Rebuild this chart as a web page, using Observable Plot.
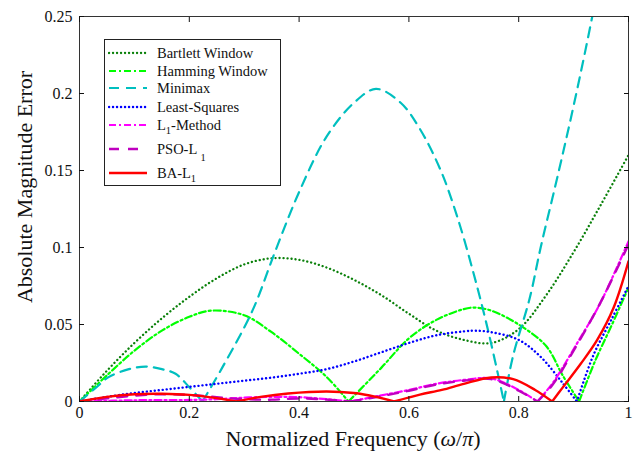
<!DOCTYPE html>
<html><head><meta charset="utf-8">
<script src="https://cdn.jsdelivr.net/npm/d3@7"></script>
<script src="https://cdn.jsdelivr.net/npm/@observablehq/plot@0.6"></script>
<style>
body{margin:0;background:#fff;}
#wrap{position:relative;width:638px;height:455px;font-family:"Liberation Serif","Times New Roman",serif;}
#legend{position:absolute;left:104px;top:39px;width:177px;height:147px;border:1px solid #222;background:#fff;box-sizing:border-box;}
.row{position:absolute;left:0;height:18px;width:170px;}
.row svg{position:absolute;left:3px;top:6px;}
.row span{position:absolute;left:52px;top:0;line-height:18px;font-size:14.5px;white-space:nowrap;color:#111;}
.row sub{font-size:10.5px;line-height:0;vertical-align:-4px;}
.row sub.low{vertical-align:-7px;}
</style></head><body><div id="wrap"></div>
<script>
// ---- data ----
const seriesNames = ["Bartlett Window","Hamming Window","Minimax","Least-Squares","L<sub>1</sub>-Method","PSO-L <sub class=\"low\">1</sub>","BA-L<sub>1</sub>"];

const bartlettF = [0,0.05,0.1,0.15,0.2,0.25,0.3,0.35,0.4,0.45,0.5,0.55,0.6,0.65,0.7,0.75,0.8,0.85,0.9,0.95,1];
const bartlettV = [0,0.020,0.038,0.054,0.068,0.080,0.089,0.093,0.092,0.087,0.079,0.069,0.057,0.046,0.040,0.038,0.047,0.069,0.097,0.128,0.160];

const hammingF = [0,0.05,0.1,0.15,0.2,0.24,0.3,0.35,0.4,0.45,0.49,0.55,0.6,0.65,0.7,0.72,0.75,0.8,0.85,0.88,0.91,0.94,0.97,1];
const hammingV = [0,0.017,0.033,0.046,0.055,0.059,0.056,0.045,0.031,0.016,0,0.022,0.041,0.053,0.060,0.061,0.059,0.050,0.036,0.017,0,0.027,0.050,0.074];

const minimaxF = [0,0.03,0.053,0.09,0.12,0.15,0.175,0.2,0.224,0.26,0.315,0.357,0.4,0.45,0.5,0.54,0.585,0.62,0.658,0.688,0.718,0.745,0.773,0.79,0.82,0.84,0.87,0.9,0.934,0.96];
const minimaxV = [0,0.009,0.0158,0.021,0.0227,0.021,0.018,0.0093,0,0.022,0.059,0.098,0.136,0.172,0.194,0.203,0.194,0.177,0.150,0.120,0.083,0.045,0,0.030,0.067,0.100,0.145,0.192,0.25,0.30];

const lsF = [0,0.05,0.1,0.15,0.2,0.25,0.3,0.35,0.4,0.45,0.5,0.55,0.6,0.65,0.7,0.72,0.75,0.8,0.84,0.88,0.906,0.936,0.97,1];
const lsV = [0,0.003,0.0055,0.0075,0.0095,0.0115,0.0135,0.0155,0.018,0.021,0.026,0.032,0.038,0.043,0.0455,0.046,0.045,0.040,0.029,0.012,0,0.030,0.054,0.075];

const l1F = [0,0.1,0.2,0.25,0.3,0.35,0.4,0.45,0.494,0.55,0.6,0.65,0.7,0.75,0.8,0.834,0.86,0.88,0.91,0.943,0.97,1];
const l1V = [0,0.0008,0.001,0.0015,0.0025,0.003,0.0028,0.0015,0,0.004,0.0075,0.0115,0.014,0.015,0.0075,0,0.011,0.022,0.040,0.060,0.080,0.104];

const psoF = [0,0.05,0.1,0.15,0.2,0.25,0.3,0.35,0.4,0.45,0.494,0.55,0.6,0.65,0.7,0.75,0.8,0.834,0.86,0.9,0.95,1];
const psoV = [0,0.002,0.0038,0.0047,0.0042,0.0028,0.0015,0.0012,0.002,0.0012,0,0.0035,0.007,0.011,0.0135,0.0145,0.007,0,0.010,0.033,0.065,0.102];

const baF = [0,0.05,0.1,0.15,0.2,0.25,0.285,0.33,0.38,0.45,0.5,0.54,0.573,0.62,0.66,0.7,0.75,0.79,0.83,0.861,0.88,0.913,0.943,0.973,1];
const baV = [0,0.003,0.0047,0.005,0.0043,0.0022,0,0.003,0.0052,0.0065,0.0055,0.003,0,0.0045,0.0075,0.0115,0.0156,0.0145,0.0075,0,0.009,0.0245,0.040,0.061,0.091];

const xTicks = [0,0.2,0.4,0.6,0.8,1];
const xTickLabels = ["0","0.2","0.4","0.6","0.8","1"];
const yTicks = [0,0.05,0.1,0.15,0.2,0.25];
const yTickLabels = ["0","0.05","0.1","0.15","0.2","0.25"];

// ---- styles ----
const styles = [
  {stroke:"#0a800a", strokeWidth:2.3, strokeDasharray:"0.1,3.9", strokeLinecap:"round"},
  {stroke:"#00ff00", strokeWidth:2.2, strokeDasharray:"7,3,2,3"},
  {stroke:"#00bfbf", strokeWidth:2.2, strokeDasharray:"10,7"},
  {stroke:"#0000ff", strokeWidth:2.4, strokeDasharray:"0.1,3.9", strokeLinecap:"round"},
  {stroke:"#ff00ff", strokeWidth:2.2, strokeDasharray:"7,3,2,3"},
  {stroke:"#bf00bf", strokeWidth:2.4, strokeDasharray:"10,9"},
  {stroke:"#ff0000", strokeWidth:2.4}
];

function segs(f, v) {
  const rows = []; let s = 0;
  for (let i = 0; i < f.length; i++) {
    rows.push({f: f[i], v: v[i], s});
    if (v[i] === 0 && i > 0 && i < f.length - 1) { s++; rows.push({f: f[i], v: v[i], s}); }
  }
  return rows;
}
const series = [
  [bartlettF, bartlettV], [hammingF, hammingV], [minimaxF, minimaxV], [lsF, lsV],
  [l1F, l1V], [psoF, psoV], [baF, baV]
];

const W = 638, H = 455;
const svg = Plot.plot({
  width: W, height: H,
  marginLeft: 79, marginRight: 10, marginTop: 16, marginBottom: 54,
  style: {fontFamily: "'Liberation Serif','Times New Roman',serif", fontSize: "16px", background: "#fff", color: "#111"},
  x: {domain: [0, 1]},
  y: {domain: [0, 0.25]},
  marks: [
    ...series.map(([f, v], i) => Plot.line(segs(f, v), {x: "f", y: "v", z: "s", curve: "catmull-rom", clip: true, ...styles[i]})),
    Plot.frame({stroke: "#333", strokeWidth: 1}),
    Plot.axisX({anchor: "bottom", ticks: xTicks, tickFormat: (d, i) => xTickLabels[i], tickSize: -5, tickPadding: 10, label: null}),
    Plot.axisX({anchor: "top", ticks: xTicks, tickFormat: () => "", tickSize: -5, label: null}),
    Plot.axisY({anchor: "left", ticks: yTicks, tickFormat: (d, i) => yTickLabels[i], tickSize: -5, tickPadding: 12, label: null}),
    Plot.axisY({anchor: "right", ticks: yTicks, tickFormat: () => "", tickSize: -5, label: null})
  ]
});

const sel = d3.select(svg);
sel.append("text")
  .attr("transform", "translate(24,187) rotate(-90)")
  .attr("text-anchor", "middle").attr("dominant-baseline", "central")
  .attr("font-size", 22).attr("fill", "#111")
  .text("Absolute Magnitude Error");
const xl = sel.append("text")
  .attr("x", 353).attr("y", 446)
  .attr("text-anchor", "middle")
  .attr("font-size", 22).attr("fill", "#111");
xl.append("tspan").text("Normalized Frequency (");
xl.append("tspan").attr("font-style", "italic").text("ω");
xl.append("tspan").text("/");
xl.append("tspan").attr("font-style", "italic").text("π");
xl.append("tspan").text(")");

const wrap = document.getElementById("wrap");
wrap.appendChild(svg);

// legend
const legend = document.createElement("div");
legend.id = "legend";
const rowCenters = [13, 31, 48, 67, 85, 109, 133];
seriesNames.forEach((name, i) => {
  const row = document.createElement("div");
  row.className = "row";
  row.style.top = (rowCenters[i] - 9) + "px";
  const st = styles[i];
  row.innerHTML = `<svg width="40" height="6"><line x1="1" y1="3" x2="39" y2="3" stroke="${st.stroke}" stroke-width="${st.strokeWidth}" ${st.strokeDasharray ? `stroke-dasharray="${st.strokeDasharray}"` : ""} ${st.strokeLinecap ? `stroke-linecap="${st.strokeLinecap}"` : ""}/></svg><span>${name}</span>`;
  legend.appendChild(row);
});
wrap.appendChild(legend);
</script>
</body></html>
